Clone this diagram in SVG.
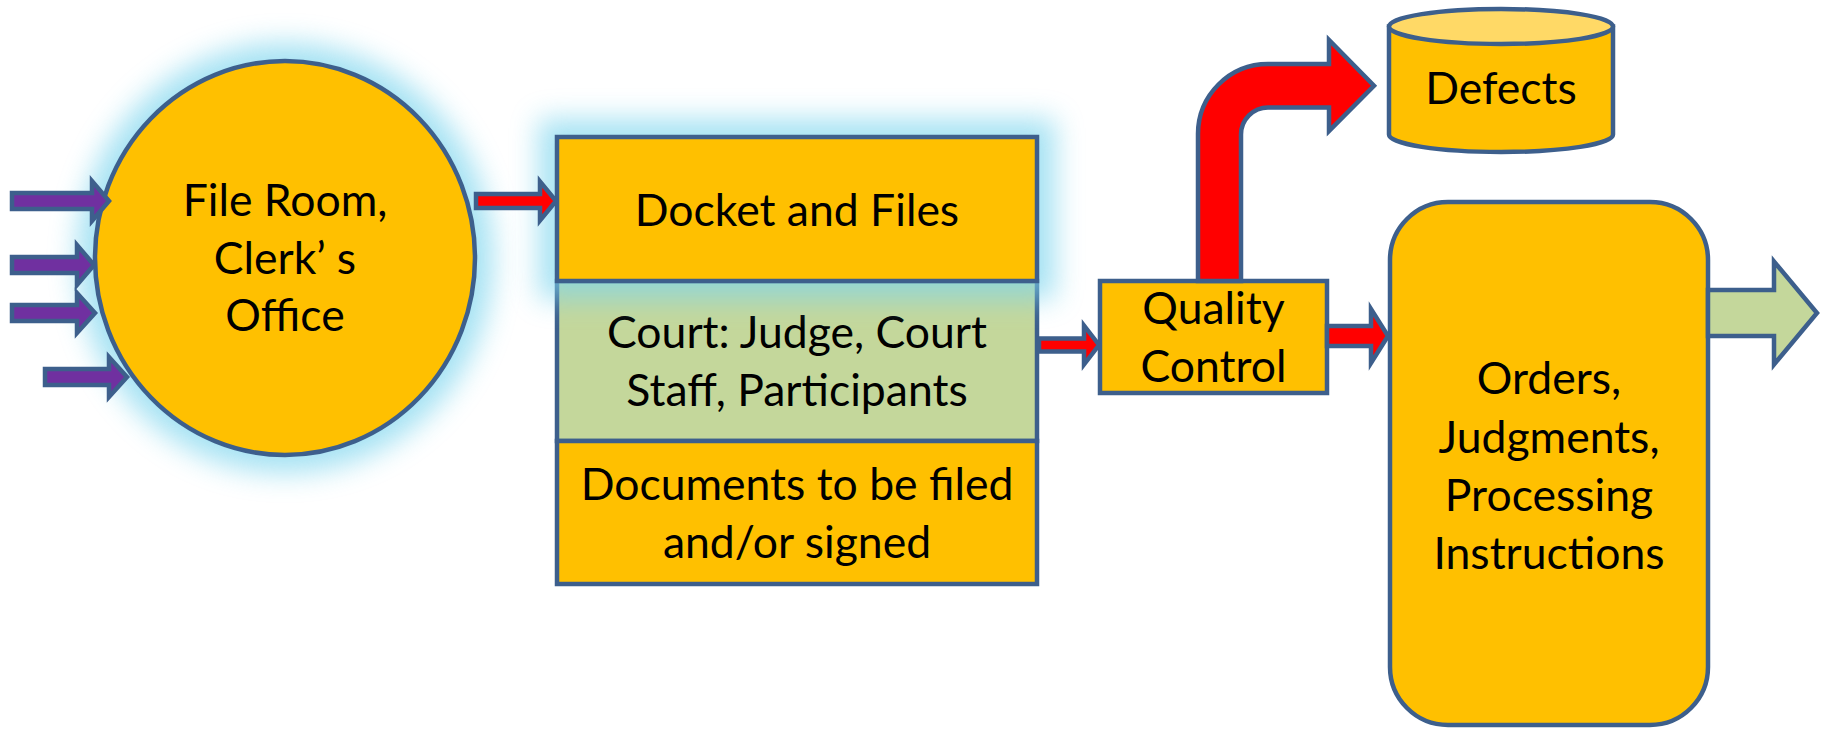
<svg xmlns="http://www.w3.org/2000/svg" width="1821" height="730" viewBox="0 0 1821 730">
<style>
  .shape { stroke: #3d5f8c; stroke-width: 4.5; stroke-linejoin: miter; }
  .orange { fill: #ffc000; }
  .green { fill: #c4d79b; }
  .red { fill: #ff0000; }
  .purple { fill: #7030a0; }
  .lbl { font-family: "Lato", "Liberation Sans", sans-serif; font-size: 44.5px; fill: #000; text-anchor: middle; }
  .glow { fill: #7fd6ee; opacity: 0.7; filter: url(#blur); }
</style>
<defs>
  <filter id="blur" x="-40%" y="-40%" width="180%" height="180%">
    <feGaussianBlur stdDeviation="14"/>
  </filter>
</defs>
<rect width="1821" height="730" fill="#ffffff"/>

<!-- File Room node -->
<g id="node-fileroom">
  <ellipse class="glow" cx="285" cy="258" rx="208" ry="215"/>
  <ellipse class="shape orange" cx="285" cy="258" rx="190" ry="197"/>
  <text class="lbl" x="285" y="216">File Room,</text>
  <text class="lbl" x="285" y="274">Clerk’ s</text>
  <text class="lbl" x="285" y="331">Office</text>
</g>

<!-- Court stack -->
<g id="node-court">
  <rect class="shape green" x="557" y="281" width="480" height="160"/>
  <text class="lbl" x="797" y="348">Court: Judge, Court</text>
  <text class="lbl" x="797" y="406">Staff, Participants</text>
</g>
<g id="node-docket">
  <rect class="glow" x="539" y="119" width="516" height="180"/>
  <rect class="shape orange" x="557" y="137" width="480" height="144"/>
  <text class="lbl" x="797" y="226">Docket and Files</text>
</g>
<g id="node-documents">
  <rect class="shape orange" x="557" y="441" width="480" height="143"/>
  <text class="lbl" x="797" y="500">Documents to be filed</text>
  <text class="lbl" x="797" y="558">and/or signed</text>
</g>

<!-- Quality Control -->
<g id="node-qc">
  <rect class="shape orange" x="1100" y="281" width="227" height="112"/>
  <text class="lbl" x="1213.5" y="324">Quality</text>
  <text class="lbl" x="1213.5" y="382">Control</text>
</g>

<!-- Defects -->
<g id="node-defects">
  <path class="shape orange" d="M1389 26.5 L1389 134.5 A112 17.5 0 0 0 1613 134.5 L1613 26.5 Z"/>
  <ellipse class="shape" fill="#ffd966" cx="1501" cy="26.5" rx="112" ry="17.5"/>
  <text class="lbl" x="1501" y="104">Defects</text>
</g>

<!-- Orders -->
<g id="node-orders">
  <rect class="shape orange" x="1390" y="202" width="318" height="523" rx="58" ry="58"/>
  <text class="lbl" x="1549" y="394">Orders,</text>
  <text class="lbl" x="1549" y="453">Judgments,</text>
  <text class="lbl" x="1549" y="511">Processing</text>
  <text class="lbl" x="1549" y="569">Instructions</text>
</g>

<!-- Connectors -->
<g id="connectors">
  <polygon class="shape purple" points="12,193 92,193 92,181 109,201 92,221 92,209 12,209"/>
  <polygon class="shape purple" points="12,257 77,257 77,245 94,265 77,285 77,273 12,273"/>
  <polygon class="shape purple" points="12,305 77,305 77,293 95,313 77,333 77,321 12,321"/>
  <polygon class="shape purple" points="45,369 109,369 109,357 127,377 109,397 109,385 45,385"/>
  <polygon class="shape red" points="476,194 540,194 540,181.5 556,201 540,220.5 540,208 476,208"/>
  <polygon class="shape red" points="1039,338.5 1084,338.5 1084,325.5 1099,345 1084,364.5 1084,351.5 1039,351.5"/>
  <polygon class="shape red" points="1327,326 1371,326 1371,309 1388,336 1371,363 1371,346 1327,346"/>
  <path class="shape red" d="M1198 281 L1198 134 A70 70 0 0 1 1268 64 L1329 64 L1329 40 L1374 85.75 L1329 131 L1329 107.5 L1268 107.5 A27 27 0 0 0 1241 134.5 L1241 281 Z"/>
  <polygon class="shape green" points="1708,290 1774,290 1774,261.5 1817,313 1774,364.5 1774,336 1708,336"/>
</g>
</svg>
